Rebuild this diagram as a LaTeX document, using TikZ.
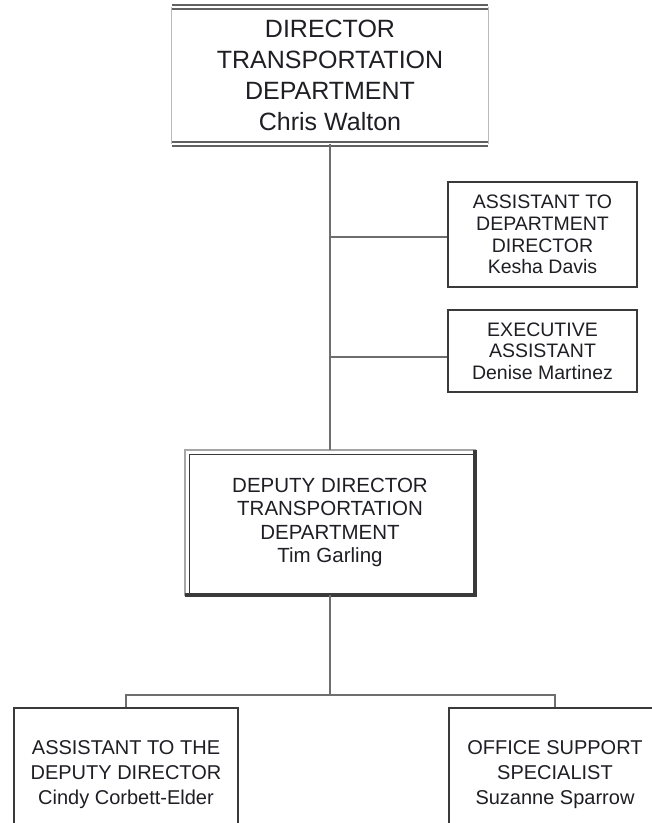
\documentclass[tikz,border=0pt]{standalone}
\usepackage{fontspec}
\setmainfont{Liberation Sans}
\definecolor{inkc}{HTML}{1E1E24}
\definecolor{edgec}{HTML}{3A3A3A}
\definecolor{linkc}{HTML}{6E6E6E}
\begin{document}
\begin{tikzpicture}[x=1pt,y=-1pt,
  txt/.style={align=center, inner sep=0pt, text=inkc},
  bigtxt/.style={txt, font=\fontsize{25}{31}\selectfont},
  smalltxt/.style={txt, font=\fontsize{19.5}{21.6}\selectfont},
  midtxt/.style={txt, font=\fontsize{20.5}{23.3}\selectfont},
  lowtxt/.style={txt, font=\fontsize{20}{25}\selectfont},
  plainbox/.style={draw=edgec, line width=1.6pt, fill=white},
  link/.style={draw=linkc, line width=1.8pt}]
\useasboundingbox[fill=white] (0,0) rectangle (652,823);

% top: director
\node[bigtxt, minimum width=316pt, minimum height=137pt] (dir) at (330,75.5)
  {DIRECTOR\\TRANSPORTATION\\DEPARTMENT\\Chris Walton};
% staff boxes on the right
\node[plainbox, smalltxt, minimum width=189pt, minimum height=105pt] (asst) at (542.5,234.5)
  {ASSISTANT TO\\DEPARTMENT\\DIRECTOR\\Kesha Davis};
\node[plainbox, smalltxt, minimum width=189pt, minimum height=82pt] (exec) at (542.5,351)
  {EXECUTIVE\\ASSISTANT\\Denise Martinez};
% deputy
\node[midtxt, minimum width=290pt, minimum height=145pt] (dep) at (330,522.5)
  {DEPUTY DIRECTOR\\TRANSPORTATION\\DEPARTMENT\\Tim Garling};
% bottom row
\node[plainbox, lowtxt, minimum width=224pt, minimum height=134pt] (adep) at (126,775)
  {ASSISTANT TO THE\\DEPUTY DIRECTOR\\Cindy Corbett-Elder};
\node[plainbox, lowtxt, minimum width=212pt, minimum height=134pt] (oss) at (555,775)
  {OFFICE SUPPORT\\SPECIALIST\\Suzanne Sparrow};

% director frame: double rules top and bottom, faint sides
\draw[edgec!80, line width=1.5pt, double=white, double distance=2.5pt]
  (dir.north west) -- (dir.north east)
  (dir.south west) -- (dir.south east);
\draw[edgec!35, line width=1pt] (dir.north west) -- (dir.south west)
  (dir.north east) -- (dir.south east);

% deputy frame: light outer rule, dark inner rule, heavy shadow edges
\draw[gray!70, line width=1.4pt] (dep.north west) rectangle (dep.south east);
\draw[edgec, line width=1.4pt]
  ([shift={(4.5,0)}]dep.south west) -- ([shift={(4.5,4.5)}]dep.north west)
  -- ([shift={(0,4.5)}]dep.north east);
\draw[edgec, line width=3.5pt]
  (dep.north east) -- (dep.south east) -- (dep.south west);

% connectors
\coordinate (j1) at (330,237);
\coordinate (j2) at (330,357);
\coordinate (bus) at (330,695);
\draw[link] (dir.south) -- (dep.north);
\draw[link] (j1) -- (j1 -| asst.west);
\draw[link] (j2) -- (j2 -| exec.west);
\draw[link] (dep.south) -- (bus);
\draw[link] (adep.north) |- (bus) -| (oss.north);
\end{tikzpicture}
\end{document}
